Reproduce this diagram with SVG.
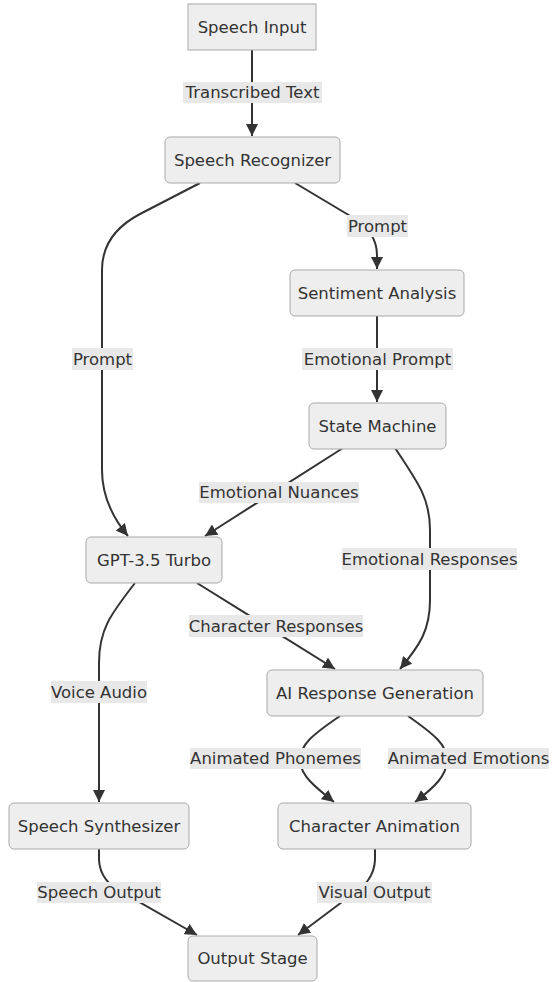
<svg xmlns="http://www.w3.org/2000/svg" width="552" height="982" viewBox="0 0 552 982">
<style>
.node rect{fill:#eeeeee;stroke:#a9a9a9;stroke-width:1}
text{font-family:"DejaVu Sans","Open Sans",sans-serif;font-size:16.5px;fill:#333333;text-anchor:middle;dominant-baseline:central}
.edge{fill:none;stroke:#333333;stroke-width:2}
.lbl rect{fill:#e8e8e8}
</style>
<defs>
<marker id="arrow" viewBox="0 0 10 10" refX="10" refY="5" markerUnits="userSpaceOnUse" markerWidth="12" markerHeight="12" orient="auto">
<path d="M0,0 L10,5 L0,10 z" fill="#333333"/>
</marker>
</defs>
<rect width="552" height="982" fill="#ffffff"/>
<g id="connectors">
<path class="edge" marker-end="url(#arrow)" d="M252,50 L252,136"/>
<path class="edge" marker-end="url(#arrow)" d="M295,183 L352,217 Q377,232 377,255 L377,269"/>
<path class="edge" marker-end="url(#arrow)" d="M200,183 L140,214 Q102,234 102,270 L102,470 Q102,505 128,536"/>
<path class="edge" marker-end="url(#arrow)" d="M377,316 L377,402"/>
<path class="edge" marker-end="url(#arrow)" d="M343,448 L205,536"/>
<path class="edge" marker-end="url(#arrow)" d="M395,448 C420,485 430,500 430,530 L430,600 C430,630 420,645 400,669"/>
<path class="edge" marker-end="url(#arrow)" d="M197,583 L335,669"/>
<path class="edge" marker-end="url(#arrow)" d="M135,583 C110,615 99,630 99,663 L99,802"/>
<path class="edge" marker-end="url(#arrow)" d="M340,716 C312,735 300,745 300,760 C300,775 315,787 334,802"/>
<path class="edge" marker-end="url(#arrow)" d="M408,716 C435,735 447,745 447,760 C447,775 435,787 415,802"/>
<path class="edge" marker-end="url(#arrow)" d="M99,849 L99,860 Q100,882 125,894 L197,935"/>
<path class="edge" marker-end="url(#arrow)" d="M375,849 L375,860 Q374,882 350,896 L298,935"/>
</g>
<g id="edge-labels">
<g class="lbl"><rect x="183" y="82" width="139" height="21"/><text x="252.5" y="92.5">Transcribed Text</text></g>
<g class="lbl"><rect x="347" y="215" width="61" height="22"/><text x="377.5" y="226">Prompt</text></g>
<g class="lbl"><rect x="72" y="348" width="61" height="22"/><text x="102.5" y="359">Prompt</text></g>
<g class="lbl"><rect x="302" y="348" width="151" height="22"/><text x="377.5" y="359">Emotional Prompt</text></g>
<g class="lbl"><rect x="199" y="482" width="160" height="21"/><text x="279" y="492.5">Emotional Nuances</text></g>
<g class="lbl"><rect x="342" y="548" width="175" height="22"/><text x="429.5" y="559">Emotional Responses</text></g>
<g class="lbl"><rect x="189" y="615" width="174" height="22"/><text x="276" y="626">Character Responses</text></g>
<g class="lbl"><rect x="51" y="681" width="96" height="22"/><text x="99" y="692">Voice Audio</text></g>
<g class="lbl"><rect x="190" y="748" width="171" height="21"/><text x="275.5" y="758.5">Animated Phonemes</text></g>
<g class="lbl"><rect x="388" y="748" width="161" height="21"/><text x="468.5" y="758.5">Animated Emotions</text></g>
<g class="lbl"><rect x="37" y="882" width="124" height="21"/><text x="99" y="892.5">Speech Output</text></g>
<g class="lbl"><rect x="317" y="882" width="115" height="21"/><text x="374.5" y="892.5">Visual Output</text></g>
</g>
<g id="speech-input" class="node"><rect x="188" y="4" width="128" height="46"/><text x="252" y="27">Speech Input</text></g>
<g id="speech-recognizer" class="node"><rect x="165" y="137" width="175" height="46" rx="5"/><text x="252.5" y="160">Speech Recognizer</text></g>
<g id="sentiment-analysis" class="node"><rect x="290" y="270" width="174" height="46" rx="5"/><text x="377" y="293">Sentiment Analysis</text></g>
<g id="state-machine" class="node"><rect x="309" y="403" width="137" height="46" rx="5"/><text x="377.5" y="426">State Machine</text></g>
<g id="gpt-turbo" class="node"><rect x="86" y="537" width="136" height="46" rx="5"/><text x="154" y="560">GPT-3.5 Turbo</text></g>
<g id="ai-response-generation" class="node"><rect x="267" y="670" width="216" height="46" rx="5"/><text x="375" y="693">AI Response Generation</text></g>
<g id="speech-synthesizer" class="node"><rect x="9" y="803" width="180" height="46" rx="5"/><text x="99" y="826">Speech Synthesizer</text></g>
<g id="character-animation" class="node"><rect x="278" y="803" width="193" height="46" rx="5"/><text x="374.5" y="826">Character Animation</text></g>
<g id="output-stage" class="node"><rect x="188" y="936" width="129" height="45" rx="5"/><text x="252.5" y="958.5">Output Stage</text></g>
</svg>
